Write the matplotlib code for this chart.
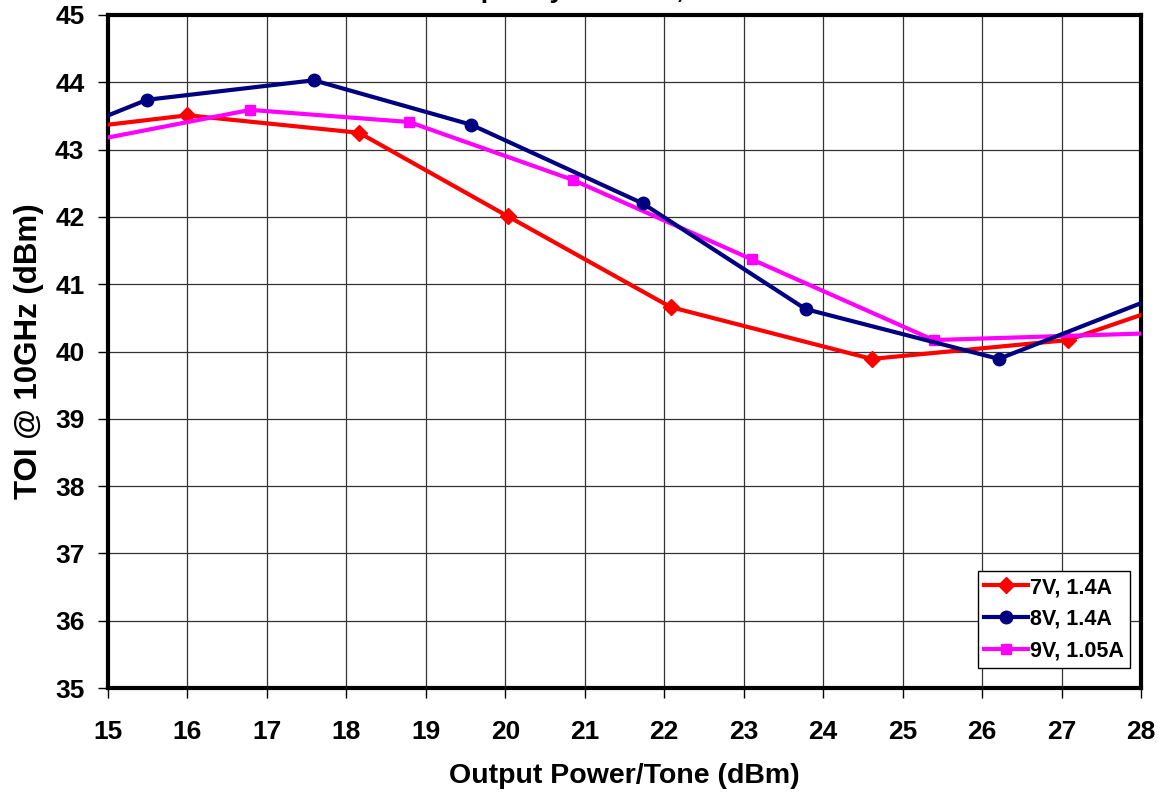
import matplotlib
matplotlib.use("Agg")
import matplotlib.pyplot as plt

plt.rcParams['font.family'] = ['Liberation Sans', 'DejaVu Sans']
plt.rcParams['font.weight'] = 'bold'

# Data
x_7v = [14.0, 16.0, 18.16, 20.03, 22.08, 24.61, 27.08, 29.0]
y_7v = [43.23, 43.51, 43.25, 42.01, 40.66, 39.89, 40.17, 40.95]

x_8v = [14.5, 15.49, 17.59, 19.57, 21.73, 23.78, 26.21, 28.5]
y_8v = [43.27, 43.74, 44.03, 43.37, 42.20, 40.63, 39.89, 40.95]

x_9v = [14.0, 16.79, 18.79, 20.85, 23.10, 25.39, 28.1]
y_9v = [42.95, 43.59, 43.41, 42.55, 41.37, 40.17, 40.27]

labels = ["7V, 1.4A", "8V, 1.4A", "9V, 1.05A"]
x_ticks = list(range(15, 29))
y_ticks = list(range(35, 46))

fig = plt.figure(figsize=(11.63, 8.0), dpi=100)
ax = fig.add_axes([108/1163, 1-688/800, (1141-108)/1163, (688-15)/800])

ax.plot(x_7v, y_7v, color='#ff0000', lw=3, marker='D', ms=8.5, label=labels[0], zorder=3)
ax.plot(x_8v, y_8v, color='#000080', lw=3, marker='o', ms=9, label=labels[1], zorder=4)
ax.plot(x_9v, y_9v, color='#ff00ff', lw=3, marker='s', ms=7.5, label=labels[2], zorder=3)

ax.set_xlim(15, 28)
ax.set_ylim(35, 45)
ax.set_xticks(x_ticks)
ax.set_yticks(y_ticks)
ax.grid(True, color='#333333', lw=0.9)
ax.set_axisbelow(True)
for s in ax.spines.values():
    s.set_linewidth(3)
    s.set_color('black')
ax.tick_params(axis='both', direction='out', length=7, width=1, labelsize=19)
ax.tick_params(axis='x', pad=16)
ax.tick_params(axis='y', pad=10)
for lab in ax.get_xticklabels() + ax.get_yticklabels():
    lab.set_fontweight('bold')

ax.set_xlabel("Output Power/Tone (dBm)", fontsize=20.5, fontweight='bold', labelpad=14)
ax.set_ylabel("TOI @ 10GHz (dBm)", fontsize=22.5, fontweight='bold', labelpad=8)

leg = ax.legend(loc='lower right', bbox_to_anchor=(1130/1163, 1-668/800), bbox_transform=fig.transFigure,
                fontsize=15.5, frameon=True, fancybox=False, edgecolor='black', framealpha=1,
                handlelength=2.0, borderpad=0.3, labelspacing=0.5, handletextpad=0.1,
                borderaxespad=0)
leg.get_frame().set_linewidth(1)
for t in leg.get_texts():
    t.set_fontweight('bold')

fig.text(0.4626, 1.003, "TOI vs. Frequency = 10GHz, 25C", ha='center', va='baseline',
         fontsize=19, fontweight='bold')

fig.savefig("out.png", dpi=100)
